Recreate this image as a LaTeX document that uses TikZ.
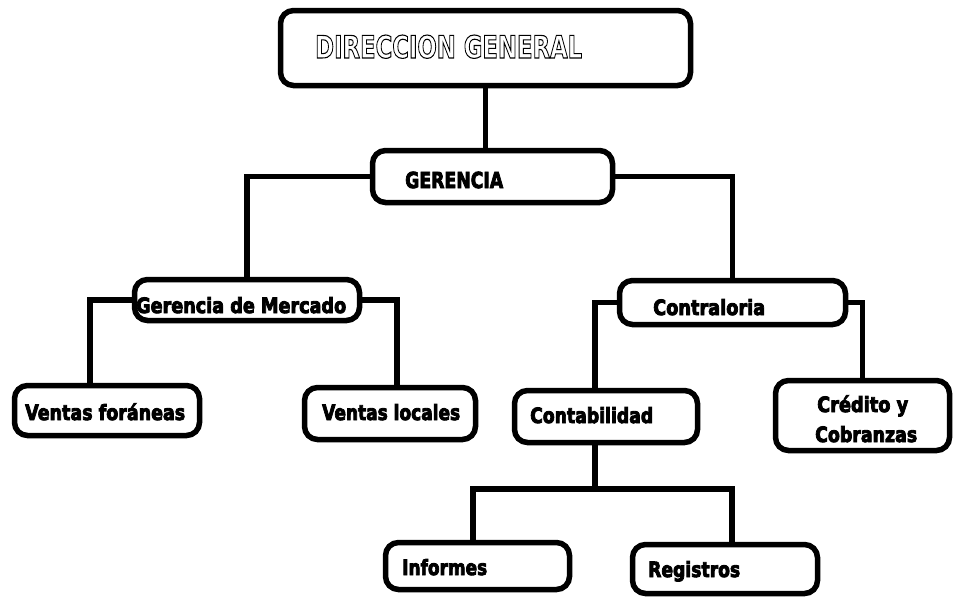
\documentclass[tikz,border=0pt]{standalone}
\usepackage{fontspec}
\setmainfont{DejaVu Sans}
\usepackage{graphicx}

% stretch a label horizontally to a given width, keeping its height
\newcommand{\fitto}[2]{\resizebox{#1}{\height}{#2}}
% heavy lettering: glyphs filled and stroked
\newcommand{\heavy}[1]{\special{pdf:code 2 Tr 0.9 w}#1\special{pdf:code 0 Tr}}
% hollow lettering: glyph outlines only
\newcommand{\hollow}[1]{\special{pdf:code 1 Tr 1.1 w}#1\special{pdf:code 0 Tr}}

\tikzset{
  orgbox/.style={draw, line width=5.5pt, rounded corners=13pt, inner sep=0pt},
  link/.style={line width=5.5pt},
  lbl/.style={anchor=base west, inner sep=0pt, font=\fontsize{21}{24}\selectfont\bfseries},
}

\begin{document}
\begin{tikzpicture}[x=1pt,y=-1pt]
\fill[white] (0,0) rectangle (954,597);
\useasboundingbox (0,0) rectangle (954,597);

% units
\node[orgbox, minimum width=410pt, minimum height=75pt] (dg)  at (485.5,48)  {};
\node[orgbox, minimum width=240pt, minimum height=52pt] (ger) at (492.5,176.5) {};
\node[orgbox, minimum width=225pt, minimum height=41pt] (gm)  at (247,300)   {};
\node[orgbox, minimum width=226pt, minimum height=44pt] (con) at (732.5,302.5) {};
\node[orgbox, minimum width=185pt, minimum height=50pt] (vf)  at (107,410.5) {};
\node[orgbox, minimum width=171pt, minimum height=52pt] (vl)  at (390,413.5) {};
\node[orgbox, minimum width=183pt, minimum height=52pt] (cb)  at (606,416.5) {};
\node[orgbox, minimum width=174pt, minimum height=70pt] (cr)  at (862.5,415.5) {};
\node[orgbox, minimum width=184pt, minimum height=47pt] (inf) at (477.5,566) {};
\node[orgbox, minimum width=185pt, minimum height=49pt] (reg) at (725,569)   {};

% labels
\node[lbl] (t-dg) at (315,58)
  {\fitto{267pt}{\fontsize{31}{34}\selectfont\hollow{DIRECCION GENERAL}}};
\node[lbl] (t-ger) at (405,188) {\fitto{98pt}{\fontsize{22}{25}\selectfont\heavy{GERENCIA}}};
\node[lbl] (t-gm)  at (136,313) {\fitto{210pt}{\heavy{Gerencia de Mercado}}};
\node[lbl] (t-vf)  at (25,420)  {\fitto{160pt}{\heavy{Ventas foráneas}}};
\node[lbl] (t-vl)  at (322,420) {\fitto{138pt}{\heavy{Ventas locales}}};
\node[lbl] (t-con) at (653,315) {\fitto{112pt}{\heavy{Contraloria}}};
\node[lbl] (t-cb)  at (530,423) {\fitto{123pt}{\heavy{Contabilidad}}};
\node[lbl] (t-cr1) at (817,412) {\fitto{91pt}{\heavy{Crédito y}}};
\node[lbl] (t-cr2) at (815,442) {\fitto{102pt}{\heavy{Cobranzas}}};
\node[lbl] (t-inf) at (402,575) {\fitto{85pt}{\heavy{Informes}}};
\node[lbl] (t-reg) at (648,577) {\fitto{92pt}{\heavy{Registros}}};

% reporting lines
\draw[link] (dg.south) -- (dg.south |- ger.north);
\draw[link] (ger.west) -| (gm.north);
\draw[link] (ger.east) -| (con.north);
\draw[link] (gm.west) -| ([xshift=-17pt]vf.north);
\draw[link] (gm.east) -| ([xshift=7pt]vl.north);
\draw[link] (con.west) -| ([xshift=-11pt]cb.north);
\draw[link] (con.east) -| (cr.north);
\coordinate (split) at (595,489);
\draw[link] ([xshift=-11pt]cb.south) -- (split);
\draw[link] ([xshift=-4.5pt]inf.north) |- ([xshift=7pt]reg.north |- split) -- ([xshift=7pt]reg.north);
\end{tikzpicture}
\end{document}
